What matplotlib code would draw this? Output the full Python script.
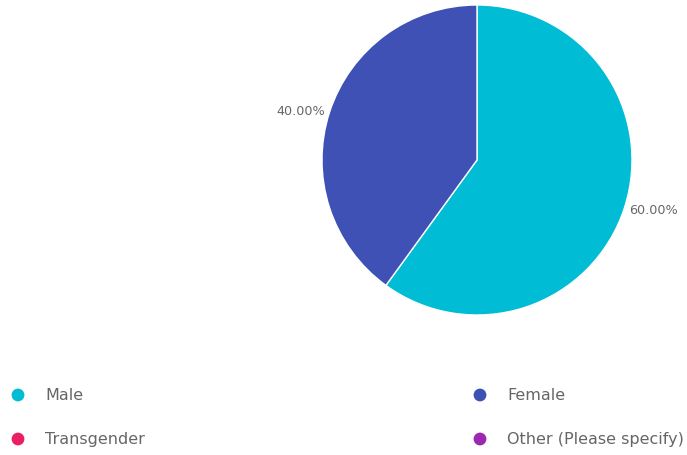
import matplotlib.pyplot as plt

# datos
categories = ['Male', 'Female', 'Transgender', 'Other (Please specify)']
values = [60.0, 40.0, 0.0, 0.0]
colors = ['#00BCD4', '#3F51B5', '#E91E63', '#9C27B0']

W, H = 687, 456
fig = plt.figure(figsize=(W / 100, H / 100), dpi=100)

# pie: centro (477,161) px, radio 155 px
cx, cy, r = 477, 161, 155
ax = fig.add_axes([(cx - r) / W, (H - cy - r) / H, 2 * r / W, 2 * r / H])
shown = [(v, c) for v, c in zip(values, colors) if v > 0]
wedges, texts = ax.pie([v for v, _ in shown], colors=[c for _, c in shown],
                       labels=[f'{v:.2f}%' for v, _ in shown],
                       startangle=90, counterclock=False, labeldistance=1.03,
                       wedgeprops=dict(edgecolor='white', linewidth=1),
                       textprops=dict(fontsize=9.2, color='#666666'))
ax.set_xlim(-1, 1)
ax.set_ylim(-1, 1)
ax.set_aspect('equal')

# leyenda manual en coordenadas de pixel
lax = fig.add_axes([0, 0, 1, 1])
lax.set_xlim(0, W)
lax.set_ylim(H, 0)
lax.axis('off')
col_x = [18, 480]
row_y = [396, 440]
for i, (name, c) in enumerate(zip(categories, colors)):
    x = col_x[i % 2]
    y = row_y[i // 2]
    lax.scatter([x], [y], s=85, color=c, edgecolors='none')
    lax.text(x + 27, y, name, fontsize=11.5, color='#666666',
             va='center', ha='left')

fig.savefig('out.png', dpi=100)
